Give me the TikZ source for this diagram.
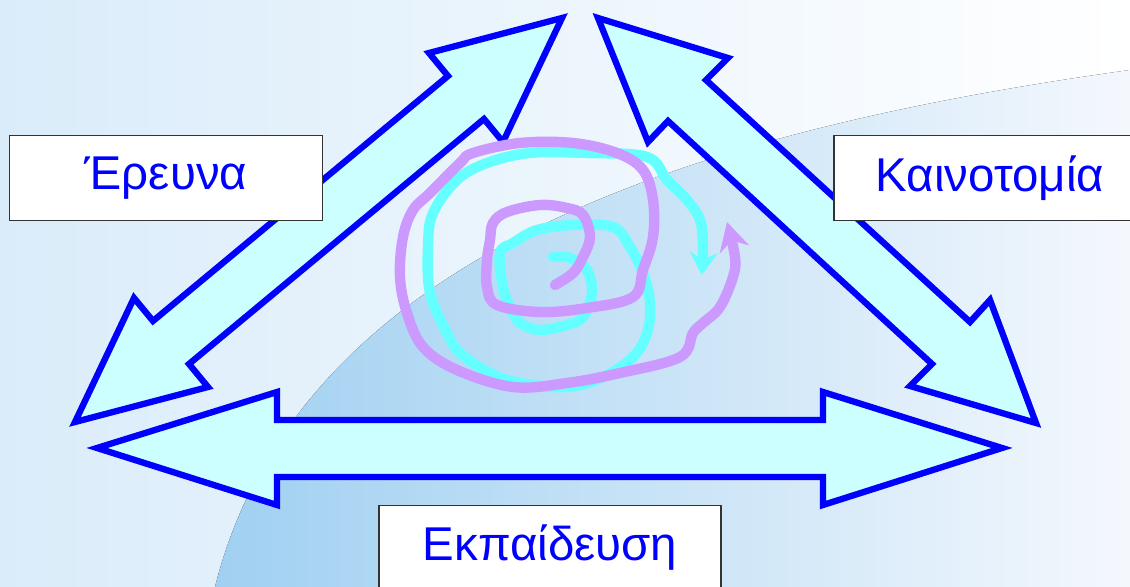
\documentclass[tikz,border=0pt]{standalone}
\usepackage{fontspec}
\setmainfont{Liberation Sans}
\usepackage{tikz}
\usetikzlibrary{arrows.meta}

\definecolor{azul}{RGB}{0,0,255}
\definecolor{ciano}{RGB}{204,255,255}
\definecolor{lilas}{RGB}{204,153,255}
\definecolor{turquesa}{RGB}{102,255,255}
\definecolor{fundoesq}{RGB}{218,236,250}
\definecolor{faixa}{RGB}{160,208,241}
\definecolor{fundodir}{RGB}{244,248,253}

\begin{document}
\begin{tikzpicture}[
	x=0.02cm, y=-0.02cm,
	bloco/.style={draw=azul, fill=ciano, line width=3.6pt, line join=miter},
	caixa/.style={draw=black!80, fill=white, line width=1pt, text=azul,
		font=\fontsize{27}{32}\selectfont, minimum height=1.7cm, inner sep=0pt},
	espiral/.style={line width=5.9pt, line cap=round, line join=round}
	]
	\useasboundingbox (0,0) rectangle (1130,587);
	\clip (0,0) rectangle (1130,587);

	% fundo
	\fill[left color=fundoesq, right color=white] (0,0) rectangle (1130,587);
	\fill[left color=faixa, right color=fundodir] (215,587) .. controls (300,250) and (700,130) .. (1130,70) -- (1130,587) -- cycle;

	% setas duplas
	\draw[bloco] (75,422) -- (134,298) -- (153,321) -- (448,76) -- (429,53) -- (562,18)
		-- (503,142) -- (484,119) -- (189,364) -- (208,387) -- cycle;
	\draw[bloco] (598,18) -- (728,58) -- (706,80) -- (970,322) -- (990,300) -- (1036,423)
		-- (910,386) -- (932,364) -- (668,121) -- (648,142) -- cycle;
	\draw[bloco] (97,448) -- (277,392) -- (277,420) -- (823,420) -- (823,392) -- (1002,448)
		-- (823,505) -- (823,477) -- (277,477) -- (277,505) -- cycle;

	% espirais
	\draw[espiral, turquesa, -{Stealth[length=13pt, width=16pt]}] plot[smooth, tension=0.6] coordinates {
		(553,257) (570,258) (587,270) (592,293) (583,317) (567,325) (540,330) (520,323)
		(510,307) (503,287) (500,253) (513,243) (537,230) (573,225) (613,227) (630,247)
		(643,273) (650,303) (647,333) (633,357) (603,377) (567,387) (520,383) (490,373)
		(460,353) (447,333) (430,293) (428,247) (433,213) (457,180) (487,163) (530,153)
		(587,153) (647,157) (667,180) (687,200) (700,220) (703,247) (702,275)};
	\draw[espiral, lilas, -{Stealth[length=16pt, width=17pt]}] plot[smooth, tension=0.6] coordinates {
		(555,285) (573,273) (583,257) (590,237) (583,215) (567,208) (540,205) (507,212)
		(493,223) (490,240) (487,260) (487,287) (497,305) (540,312) (587,308) (633,297)
		(643,270) (653,237) (653,200) (643,170) (617,153) (573,143) (520,143) (473,153)
		(460,163) (430,193) (413,210) (403,237) (400,277) (407,313) (423,347) (457,370)
		(513,387) (567,383) (620,373) (680,357) (693,333) (703,323) (720,307) (733,277)
		(735,257) (727,222)};

	% rotulos
	\node[caixa, minimum width=6.26cm] (pesquisa) at (166,178) {Έρευνα};
	\node[caixa, minimum width=6.24cm] (inovacao) at (990,178) {Καινοτομία};
	\node[caixa, minimum width=6.84cm] (educacao) at (550,548) {Εκπαίδευση};
\end{tikzpicture}
\end{document}
